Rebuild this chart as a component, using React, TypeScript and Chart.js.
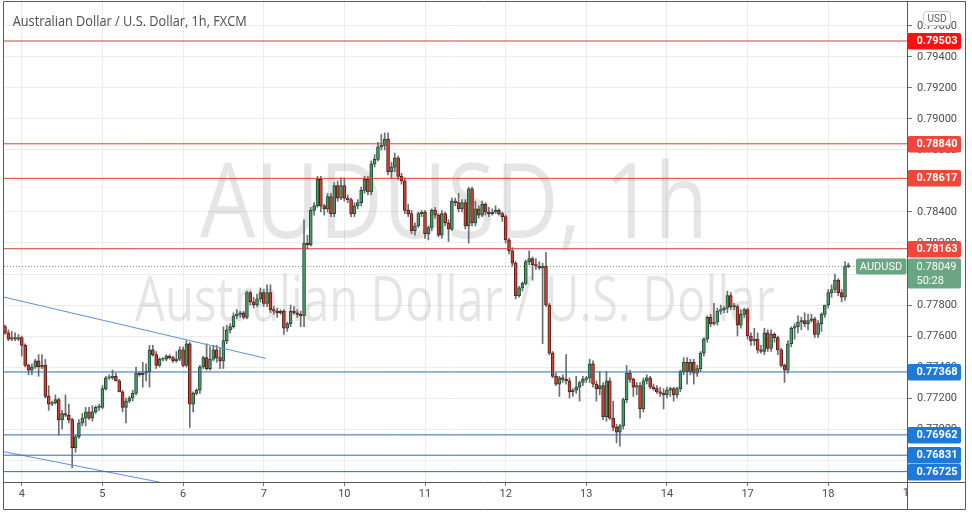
import React, { useEffect, useRef } from "react";
import { Chart, registerables } from "chart.js";
Chart.register(...registerables);

// ---- data ----
const dayLabels = ["4", "5", "6", "7", "10", "11", "12", "13", "14", "17", "18", "19"];
const dayStartIndex = [5, 29, 53, 77, 101, 125, 149, 173, 197, 221, 245, 269];
const priceTicks = [0.768, 0.77, 0.772, 0.774, 0.776, 0.778, 0.78, 0.782, 0.784, 0.786, 0.788, 0.79, 0.792, 0.794, 0.796];
const resistanceLevels = [0.79503, 0.7884, 0.78617, 0.78163];
const supportLevels = [0.77368, 0.76962, 0.76831, 0.76725];
const lastPrice = 0.78049;
const countdown = "50:28";
const symbol = "AUDUSD";
const title = "Australian Dollar / U.S. Dollar, 1h, FXCM";
const trendLineUpper = [{ x: -0.5, y: 0.77852 }, { x: 77.6, y: 0.77456 }];
const trendLineLower = [{ x: -0.5, y: 0.76854 }, { x: 60, y: 0.76598 }];

const opens = [
  .7766,.7762,.7758,.7759,.7758,.7759,.7754,.7741,.7738,.7740,.7744,.7740,
  .7741,.7721,.7716,.7717,.7719,.7706,.7710,.7709,.7706,.7688,.7695,.7704,
  .7707,.7711,.7707,.7711,.7714,.7714,.7726,.7733,.7733,.7734,.7731,.7724,
  .7714,.7718,.7720,.7723,.7736,.7735,.7736,.7737,.7751,.7748,.7741,.7745,
  .7745,.7747,.7746,.7744,.7745,.7751,.7741,.7755,.7716,.7723,.7725,.7740,
  .7746,.7739,.7745,.7751,.7746,.7744,.7757,.7764,.7766,.7773,.7774,.7775,
  .7772,.7788,.7782,.7780,.7784,.7788,.7781,.7788,.7777,.7776,.7775,.7776,
  .7765,.7768,.7776,.7775,.7774,.7773,.7820,.7819,.7841,.7844,.7861,.7844,
  .7842,.7850,.7839,.7857,.7849,.7857,.7849,.7848,.7839,.7844,.7846,.7854,
  .7861,.7853,.7871,.7874,.7882,.7883,.7887,.7866,.7869,.7875,.7863,.7860,
  .7841,.7839,.7828,.7831,.7839,.7840,.7826,.7830,.7841,.7838,.7825,.7839,
  .7833,.7829,.7847,.7846,.7842,.7846,.7831,.7855,.7833,.7842,.7838,.7845,
  .7840,.7839,.7840,.7841,.7839,.7837,.7822,.7815,.7807,.7786,.7791,.7794,
  .7808,.7810,.7806,.7805,.7804,.7805,.7780,.7749,.7734,.7729,.7733,.7732,
  .7731,.7724,.7725,.7727,.7730,.7732,.7733,.7742,.7729,.7726,.7728,.7708,
  .7731,.7707,.7701,.7698,.7702,.7719,.7736,.7732,.7727,.7728,.7713,.7731,
  .7733,.7727,.7726,.7724,.7723,.7722,.7725,.7726,.7722,.7726,.7737,.7743,
  .7737,.7743,.7736,.7739,.7749,.7758,.7772,.7768,.7769,.7776,.7777,.7778,
  .7786,.7779,.7779,.7767,.7774,.7777,.7760,.7757,.7758,.7751,.7750,.7762,
  .7752,.7761,.7759,.7751,.7741,.7738,.7755,.7765,.7766,.7769,.7770,.7768,
  .7770,.7771,.7761,.7768,.7774,.7780,.7788,.7790,.7796,.7788,.7785,.7805,
];
const highs = [
  .7767,.7764,.7763,.7762,.7761,.7760,.7755,.7742,.7742,.7745,.7748,.7748,
  .7745,.7728,.7718,.7722,.7720,.7712,.7722,.7716,.7707,.7696,.7706,.7710,
  .7714,.7714,.7715,.7715,.7716,.7728,.7734,.7735,.7738,.7736,.7732,.7725,
  .7720,.7721,.7725,.7740,.7737,.7743,.7742,.7754,.7754,.7750,.7746,.7746,
  .7748,.7748,.7747,.7750,.7753,.7753,.7757,.7756,.7724,.7726,.7741,.7747,
  .7755,.7753,.7754,.7754,.7752,.7766,.7767,.7768,.7775,.7777,.7776,.7776,
  .7789,.7789,.7785,.7787,.7791,.7790,.7793,.7793,.7779,.7778,.7777,.7777,
  .7769,.7780,.7779,.7777,.7776,.7835,.7825,.7843,.7846,.7863,.7863,.7845,
  .7852,.7852,.7859,.7860,.7862,.7862,.7851,.7849,.7846,.7848,.7856,.7863,
  .7863,.7873,.7877,.7885,.7890,.7891,.7891,.7872,.7878,.7876,.7865,.7862,
  .7845,.7841,.7833,.7840,.7841,.7841,.7831,.7842,.7843,.7839,.7841,.7840,
  .7835,.7849,.7849,.7852,.7848,.7848,.7856,.7856,.7847,.7844,.7847,.7846,
  .7843,.7842,.7844,.7842,.7840,.7838,.7823,.7817,.7808,.7792,.7795,.7809,
  .7815,.7811,.7810,.7808,.7807,.7814,.7781,.7750,.7736,.7734,.7735,.7748,
  .7733,.7726,.7734,.7731,.7734,.7734,.7745,.7744,.7731,.7737,.7730,.7737,
  .7733,.7718,.7703,.7703,.7720,.7741,.7738,.7733,.7730,.7730,.7733,.7735,
  .7734,.7729,.7728,.7727,.7726,.7727,.7727,.7727,.7727,.7738,.7746,.7746,
  .7745,.7745,.7741,.7750,.7759,.7773,.7774,.7781,.7778,.7780,.7779,.7789,
  .7788,.7781,.7780,.7777,.7778,.7778,.7762,.7765,.7762,.7754,.7765,.7764,
  .7764,.7762,.7760,.7752,.7742,.7757,.7766,.7768,.7773,.7772,.7775,.7774,
  .7774,.7772,.7770,.7775,.7780,.7790,.7793,.7800,.7797,.7790,.7808,.7807,
];
const lows = [
  .7761,.7757,.7757,.7757,.7757,.7747,.7740,.7735,.7735,.7739,.7734,.7739,
  .7720,.7712,.7715,.7716,.7696,.7700,.7708,.7704,.7675,.7685,.7694,.7702,
  .7702,.7706,.7705,.7710,.7712,.7713,.7725,.7732,.7732,.7731,.7724,.7711,
  .7704,.7717,.7718,.7722,.7734,.7727,.7731,.7727,.7747,.7739,.7740,.7744,
  .7744,.7745,.7743,.7743,.7744,.7740,.7740,.7701,.7711,.7722,.7723,.7739,
  .7738,.7738,.7744,.7743,.7739,.7739,.7755,.7762,.7765,.7771,.7772,.7771,
  .7771,.7780,.7778,.7779,.7782,.7779,.7779,.7775,.7774,.7772,.7774,.7761,
  .7763,.7766,.7774,.7772,.7766,.7766,.7816,.7818,.7838,.7843,.7840,.7838,
  .7840,.7837,.7837,.7847,.7848,.7847,.7846,.7837,.7837,.7842,.7844,.7852,
  .7851,.7851,.7869,.7873,.7880,.7880,.7864,.7862,.7866,.7861,.7858,.7839,
  .7837,.7826,.7825,.7830,.7837,.7823,.7822,.7828,.7836,.7824,.7823,.7831,
  .7821,.7828,.7844,.7840,.7840,.7829,.7820,.7831,.7831,.7836,.7837,.7838,
  .7837,.7838,.7839,.7838,.7834,.7820,.7813,.7805,.7784,.7785,.7789,.7793,
  .7806,.7796,.7803,.7803,.7755,.7779,.7748,.7733,.7728,.7721,.7730,.7729,
  .7720,.7721,.7723,.7718,.7728,.7730,.7730,.7727,.7718,.7722,.7706,.7705,
  .7706,.7699,.7691,.7689,.7700,.7717,.7730,.7721,.7722,.7707,.7711,.7729,
  .7726,.7725,.7723,.7721,.7713,.7720,.7721,.7718,.7720,.7724,.7735,.7729,
  .7735,.7729,.7734,.7737,.7747,.7756,.7766,.7767,.7767,.7774,.7775,.7775,
  .7777,.7777,.7760,.7765,.7772,.7758,.7754,.7754,.7749,.7749,.7748,.7750,
  .7750,.7756,.7748,.7740,.7730,.7736,.7753,.7758,.7762,.7764,.7766,.7764,
  .7769,.7759,.7759,.7763,.7772,.7778,.7785,.7788,.7786,.7782,.7783,.7804,
];
const closes = [
  .7762,.7758,.7759,.7758,.7759,.7754,.7741,.7738,.7740,.7744,.7740,.7741,
  .7721,.7716,.7717,.7719,.7706,.7710,.7709,.7706,.7688,.7695,.7704,.7707,
  .7711,.7707,.7711,.7714,.7714,.7726,.7733,.7733,.7734,.7731,.7724,.7714,
  .7718,.7720,.7723,.7736,.7735,.7736,.7737,.7751,.7748,.7741,.7745,.7745,
  .7747,.7746,.7744,.7745,.7751,.7741,.7755,.7716,.7723,.7725,.7740,.7746,
  .7739,.7745,.7751,.7746,.7744,.7757,.7764,.7766,.7773,.7774,.7775,.7772,
  .7788,.7782,.7780,.7784,.7788,.7781,.7788,.7777,.7776,.7775,.7776,.7765,
  .7768,.7776,.7775,.7774,.7773,.7820,.7819,.7841,.7844,.7861,.7844,.7842,
  .7850,.7839,.7857,.7849,.7857,.7849,.7848,.7839,.7844,.7846,.7854,.7861,
  .7853,.7871,.7874,.7882,.7883,.7887,.7866,.7869,.7875,.7863,.7860,.7841,
  .7839,.7828,.7831,.7839,.7840,.7826,.7830,.7841,.7838,.7825,.7839,.7833,
  .7829,.7847,.7846,.7842,.7846,.7831,.7855,.7833,.7842,.7838,.7845,.7840,
  .7839,.7840,.7841,.7839,.7837,.7822,.7815,.7807,.7786,.7791,.7794,.7808,
  .7810,.7806,.7805,.7804,.7805,.7780,.7749,.7734,.7729,.7733,.7732,.7731,
  .7724,.7725,.7727,.7730,.7732,.7733,.7742,.7729,.7726,.7728,.7708,.7731,
  .7707,.7701,.7698,.7702,.7719,.7736,.7732,.7727,.7728,.7713,.7731,.7733,
  .7727,.7726,.7724,.7723,.7722,.7725,.7726,.7722,.7726,.7737,.7743,.7737,
  .7743,.7736,.7739,.7749,.7758,.7772,.7768,.7769,.7776,.7777,.7778,.7786,
  .7779,.7779,.7767,.7774,.7777,.7760,.7757,.7758,.7751,.7750,.7762,.7752,
  .7761,.7759,.7751,.7741,.7738,.7755,.7765,.7766,.7769,.7770,.7768,.7770,
  .7771,.7761,.7768,.7774,.7780,.7788,.7790,.7796,.7788,.7785,.7805,.78049,
];

// ---- view constants ----
const X_MIN = -0.3;
const X_MAX = 268.45;
const Y_MIN = 0.766581;
const Y_MAX = 0.797548;
const FONT = "Roboto, 'Liberation Sans', Arial, sans-serif";
const GRID = "#ececec";
const FRAME = "#5a5a5a";
const RED_LINE = "#dc3d33";
const RED_LABEL = "#f2463b";
const RED_TOP = "#ff1111";
const BLUE_LINE = "#2e6bb4";
const BLUE_LABEL = "#1f79d8";
const TREND = "#5e8fdb";
const GREEN_TAG = "#6aa584";

function fitText(ctx: CanvasRenderingContext2D, text: string, x: number, baseline: number, width: number, font: string, align: "left" | "center") {
  ctx.save();
  ctx.font = font;
  const w = ctx.measureText(text).width;
  const s = width / w;
  ctx.translate(align === "center" ? x - width / 2 : x, baseline);
  ctx.scale(s, 1);
  ctx.textAlign = "left";
  ctx.textBaseline = "alphabetic";
  ctx.fillText(text, 0, 0);
  ctx.restore();
}

const overlayPlugin = {
  id: "overlay",
  beforeDatasetsDraw(chart: any) {
    const ctx: CanvasRenderingContext2D = chart.ctx;
    const a = chart.chartArea;
    ctx.save();
    ctx.beginPath();
    ctx.rect(a.left, a.top, a.right - a.left, a.bottom - a.top);
    ctx.clip();
    ctx.fillStyle = "rgba(0,0,0,0.1)";
    fitText(ctx, "AUDUSD, 1h", 454, 238, 508, `400 105px 'Open Sans', sans-serif`, "center");
    fitText(ctx, "Australian Dollar / U.S. Dollar", 455, 321, 640, `400 62px 'Open Sans', sans-serif`, "center");
    ctx.restore();
  },
  afterDraw(chart: any) {
    const ctx: CanvasRenderingContext2D = chart.ctx;
    const y = chart.scales.y;
    const x = chart.scales.x;
    const a = chart.chartArea;

    // title
    ctx.fillStyle = "#4e4e4e";
    fitText(ctx, title, 12.7, 25.5, 234, `400 14.5px 'Open Sans', sans-serif`, "left");

    // partially clipped "19" date label
    ctx.save();
    ctx.beginPath();
    ctx.rect(a.left, a.bottom, a.right - a.left, 30);
    ctx.clip();
    ctx.fillStyle = "#4a4a4a";
    ctx.font = `11px ${FONT}`;
    ctx.textAlign = "center";
    ctx.textBaseline = "top";
    ctx.fillText(dayLabels[11], x.getPixelForValue(dayStartIndex[11]), a.bottom + 6);
    ctx.restore();

    const box = (py: number, bg: string, text: string) => {
      ctx.fillStyle = bg;
      ctx.beginPath();
      (ctx as any).roundRect(907.5, Math.round(py) - 8, 53.5, 16.5, 2);
      ctx.fill();
      ctx.fillStyle = "#ffffff";
      ctx.font = `bold 11px ${FONT}`;
      ctx.textAlign = "left";
      ctx.textBaseline = "middle";
      ctx.fillText(text, 916.5, Math.round(py) + 0.5);
    };
    resistanceLevels.forEach((v, i) => box(y.getPixelForValue(v), i === 0 ? RED_TOP : RED_LABEL, v.toFixed(5)));
    supportLevels.forEach((v) => box(y.getPixelForValue(v), BLUE_LABEL, v.toFixed(5)));

    // last price tag
    const ly = Math.round(y.getPixelForValue(lastPrice));
    ctx.fillStyle = GREEN_TAG;
    ctx.beginPath();
    (ctx as any).roundRect(907.5, ly - 7.5, 53.5, 30, 2);
    ctx.fill();
    ctx.beginPath();
    (ctx as any).roundRect(856, ly - 7.5, 50.5, 16, 2);
    ctx.fill();
    ctx.fillStyle = "#ffffff";
    ctx.font = `11px ${FONT}`;
    ctx.textBaseline = "middle";
    ctx.textAlign = "left";
    ctx.fillText(lastPrice.toFixed(5), 916.5, ly + 1);
    ctx.fillText(countdown, 916.5, ly + 15);
    ctx.textAlign = "center";
    ctx.fillText(symbol, 881, ly + 1);

    // USD badge
    ctx.fillStyle = "#ffffff";
    ctx.strokeStyle = "#c9c9c9";
    ctx.lineWidth = 1;
    ctx.beginPath();
    (ctx as any).roundRect(923.5, 11.5, 27, 14, 3);
    ctx.fill();
    ctx.stroke();
    ctx.fillStyle = "#5a5a5a";
    ctx.font = `10px ${FONT}`;
    ctx.textAlign = "center";
    ctx.textBaseline = "middle";
    ctx.fillText("USD", 937, 19);

    // frame
    ctx.strokeStyle = FRAME;
    ctx.lineWidth = 1;
    ctx.beginPath();
    ctx.rect(3.5, 1.5, 962, 508);
    ctx.moveTo(907.5, 1.5);
    ctx.lineTo(907.5, 509.5);
    ctx.moveTo(3.5, 482.5);
    ctx.lineTo(965.5, 482.5);
    ctx.stroke();
  },
};

export default function App() {
  const ref = useRef<HTMLCanvasElement>(null);
  useEffect(() => {
    document.body.style.margin = "0";
    const idx = opens.map((_, i) => i);
    const up = idx.map((i) => closes[i] >= opens[i]);
    const bodies = idx.map((i) => ({ x: i, y: [opens[i], closes[i]] }));
    const wicks = idx.map((i) => ({
      x: i,
      y: [Math.min(lows[i], opens[i], closes[i]), Math.max(highs[i], opens[i], closes[i])],
    }));
    const hLine = (v: number) => [{ x: X_MIN, y: v }, { x: X_MAX, y: v }];
    const lineDs = (data: any[], color: string, dash: number[] = []) => ({
      type: "line" as const,
      data,
      borderColor: color,
      borderWidth: 1,
      borderDash: dash,
      pointRadius: 0,
      fill: false,
      order: 0,
    });

    const chart = new Chart(ref.current!, {
      type: "bar",
      data: {
        datasets: [
          ...resistanceLevels.map((v) => lineDs(hLine(v), RED_LINE)),
          ...supportLevels.map((v) => lineDs(hLine(v), BLUE_LINE)),
          lineDs(trendLineUpper, TREND),
          lineDs(trendLineLower, TREND),
          lineDs(hLine(lastPrice), "rgba(80,140,105,0.9)", [1, 2]),
          {
            type: "bar",
            data: bodies as any,
            backgroundColor: up.map((u) => (u ? "#4f9a6b" : "#cf4235")),
            borderColor: up.map((u) => (u ? "#1f4a2e" : "#5a1c15")),
            borderWidth: 1,
            borderSkipped: false,
            barThickness: 3,
            minBarLength: 1,
            grouped: false,
            order: 1,
          } as any,
          {
            type: "bar",
            data: wicks as any,
            backgroundColor: "#6a6d74",
            borderWidth: 0,
            barThickness: 1,
            grouped: false,
            order: 2,
          } as any,
        ],
      },
      options: {
        animation: false,
        responsive: false,
        maintainAspectRatio: false,
        devicePixelRatio: 1,
        events: [],
        layout: { padding: { left: 4, top: 2, right: 6, bottom: 6 } },
        plugins: { legend: { display: false }, tooltip: { enabled: false } },
        scales: {
          x: {
            type: "linear",
            min: X_MIN,
            max: X_MAX,
            offset: false,
            border: { display: false },
            grid: { color: GRID, offset: false, drawTicks: true, tickLength: 4, tickColor: "#777" },
            ticks: {
              autoSkip: false,
              maxRotation: 0,
              padding: 2,
              color: "#4a4a4a",
              font: { size: 11, family: FONT },
              callback: (v: any) => {
                const k = dayStartIndex.indexOf(Number(v));
                return k >= 0 ? dayLabels[k] : "";
              },
            },
            afterBuildTicks: (s: any) => {
              s.ticks = dayStartIndex.filter((v) => v <= X_MAX).map((v) => ({ value: v }));
            },
            afterFit: (s: any) => {
              s.height = 27;
              s.paddingLeft = 0;
              s.paddingRight = 0;
            },
          } as any,
          y: {
            type: "linear",
            position: "right",
            min: Y_MIN,
            max: Y_MAX,
            border: { display: false },
            grid: { color: GRID, drawTicks: true, tickLength: 5, tickColor: "#777" },
            ticks: {
              padding: 5,
              color: "#4a4a4a",
              font: { size: 11, family: FONT },
              callback: (v: any) => Number(v).toFixed(5),
            },
            afterBuildTicks: (s: any) => {
              s.ticks = priceTicks.map((v) => ({ value: v }));
            },
            afterFit: (s: any) => {
              s.width = 59;
              s.paddingTop = 0;
              s.paddingBottom = 0;
            },
          } as any,
        },
      },
      plugins: [overlayPlugin],
    } as any);
    return () => chart.destroy();
  }, []);
  return (
    <div style={{ width: 972, height: 515, background: "#ffffff" }}>
      <canvas ref={ref} width={972} height={515} style={{ display: "block" }} />
    </div>
  );
}
